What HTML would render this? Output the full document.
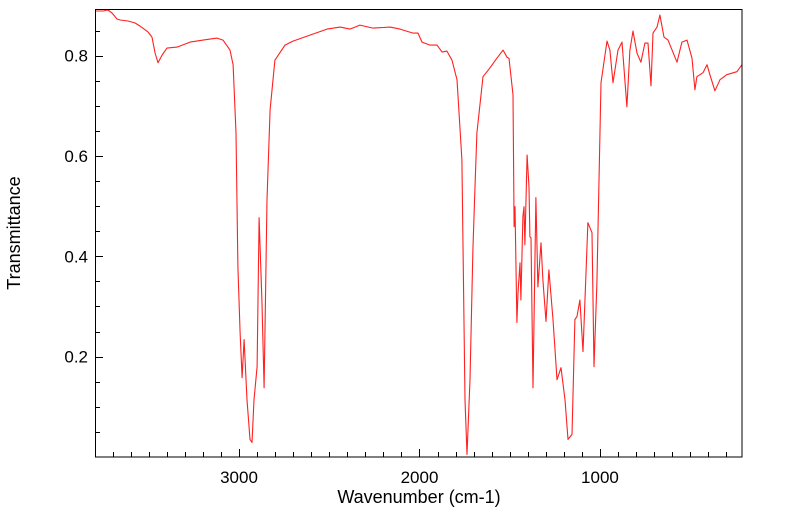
<!DOCTYPE html>
<html><head><meta charset="utf-8"><style>
html,body{margin:0;padding:0;background:#fff;}
svg{display:block;font-family:"Liberation Sans","DejaVu Sans",sans-serif;}
</style></head><body>
<svg id="chart" width="799" height="516" viewBox="0 0 799 516">
<g id="ticks"></g>
<path id="series" fill="none" stroke="#ff2020" stroke-width="1.1" stroke-linejoin="round"/>
<rect x="95.5" y="9.5" width="646.5" height="447.5" fill="none" stroke="#000" stroke-width="1"/>
<text x="419" y="503" font-size="18" text-anchor="middle">Wavenumber (cm-1)</text>
<text x="20" y="233" font-size="18" text-anchor="middle" transform="rotate(-90 20 233)">Transmittance</text>
</svg>
<script>
const wavenumbers=[3798,3753,3726,3704,3676,3659,3615,3576,3548,3504,3482,3465,3449,3427,3399,3343,3271,3199,3122,3089,3050,3033,3017,3006,2994,2983,2972,2956,2939,2928,2917,2900,2889,2873,2861,2845,2828,2801,2745,2701,2607,2512,2440,2385,2330,2258,2163,2108,2036,2008,1986,1942,1903,1875,1848,1820,1792,1776,1765,1748,1737,1720,1704,1693,1682,1648,1609,1571,1537,1515,1504,1482,1476,1471,1460,1454,1443,1438,1427,1421,1416,1404,1393,1388,1382,1371,1355,1344,1327,1316,1299,1283,1260,1238,1216,1194,1177,1155,1139,1127,1111,1094,1067,1044,1033,1017,994,961,945,928,900,878,851,834,817,795,773,751,734,717,706,684,668,645,623,573,546,518,490,474,463,429,407,391,363,335,297,241,213];
const transmittance=[0.889,0.889,0.891,0.885,0.873,0.871,0.869,0.865,0.859,0.847,0.837,0.805,0.786,0.801,0.815,0.817,0.827,0.831,0.835,0.831,0.811,0.782,0.646,0.379,0.248,0.158,0.234,0.114,0.035,0.029,0.114,0.180,0.477,0.313,0.138,0.513,0.692,0.791,0.821,0.829,0.841,0.853,0.857,0.853,0.861,0.855,0.857,0.853,0.845,0.845,0.827,0.821,0.821,0.807,0.809,0.791,0.752,0.658,0.592,0.114,0.005,0.154,0.413,0.533,0.646,0.758,0.776,0.795,0.811,0.797,0.795,0.722,0.459,0.499,0.268,0.327,0.387,0.313,0.479,0.499,0.423,0.602,0.538,0.439,0.437,0.138,0.517,0.339,0.427,0.353,0.270,0.373,0.274,0.154,0.178,0.114,0.035,0.045,0.274,0.280,0.313,0.210,0.467,0.447,0.180,0.347,0.746,0.829,0.811,0.746,0.811,0.827,0.698,0.811,0.849,0.805,0.787,0.825,0.825,0.740,0.845,0.857,0.881,0.837,0.831,0.787,0.827,0.831,0.795,0.732,0.758,0.766,0.782,0.762,0.730,0.752,0.762,0.768,0.782];
const xTickLabels=["3000","2000","1000"];
const yTickLabels=["0.2","0.4","0.6","0.8"];
const X0=95,X1=742,Y0=457,Y1=9,WMAX=3798,WMIN=213,TMIN=0.0,TMAX=0.893;
function xs(w){return X0+(WMAX-w)/(WMAX-WMIN)*(X1-X0);}
function ys(t){return Y0-(t-TMIN)/(TMAX-TMIN)*(Y0-Y1);}
const NS="http://www.w3.org/2000/svg";
const g=document.getElementById('ticks');
function line(x1,y1,x2,y2,name){const l=document.createElementNS(NS,'line');
l.setAttribute('x1',x1);l.setAttribute('y1',y1);l.setAttribute('x2',x2);l.setAttribute('y2',y2);
l.setAttribute('stroke','#000');l.setAttribute('stroke-width','1');


g.appendChild(l);}
function text(x,y,s,anchor,name){const t=document.createElementNS(NS,'text');
t.setAttribute('x',x);t.setAttribute('y',y);t.setAttribute('font-size','17');t.setAttribute('text-anchor',anchor);t.textContent=s;


document.getElementById('chart').appendChild(t);}
for(let w=300;w<=3700;w+=100){const x=Math.round(xs(w))+0.5;const major=w%1000===0;line(x,457,x,major?449:452,major?'x-major-tick':'x-minor-tick');}
xTickLabels.forEach(s=>{text(xs(+s),483,s,'middle','x-tick-label');});
for(let k=1;k<=17;k++){const t=k*0.05;if(t>TMAX)break;const y=Math.round(ys(t))+0.5;const major=k%4===0;line(95,y,major?103:100,y,major?'y-major-tick':'y-minor-tick');}
yTickLabels.forEach(s=>{text(88,ys(+s)+6,s,'end','y-tick-label');});
let d='';wavenumbers.forEach((w,i)=>{d+=(i?'L':'M')+xs(w).toFixed(1)+','+ys(transmittance[i]).toFixed(1);});
document.getElementById('series').setAttribute('d',d);
</script>
</body></html>
